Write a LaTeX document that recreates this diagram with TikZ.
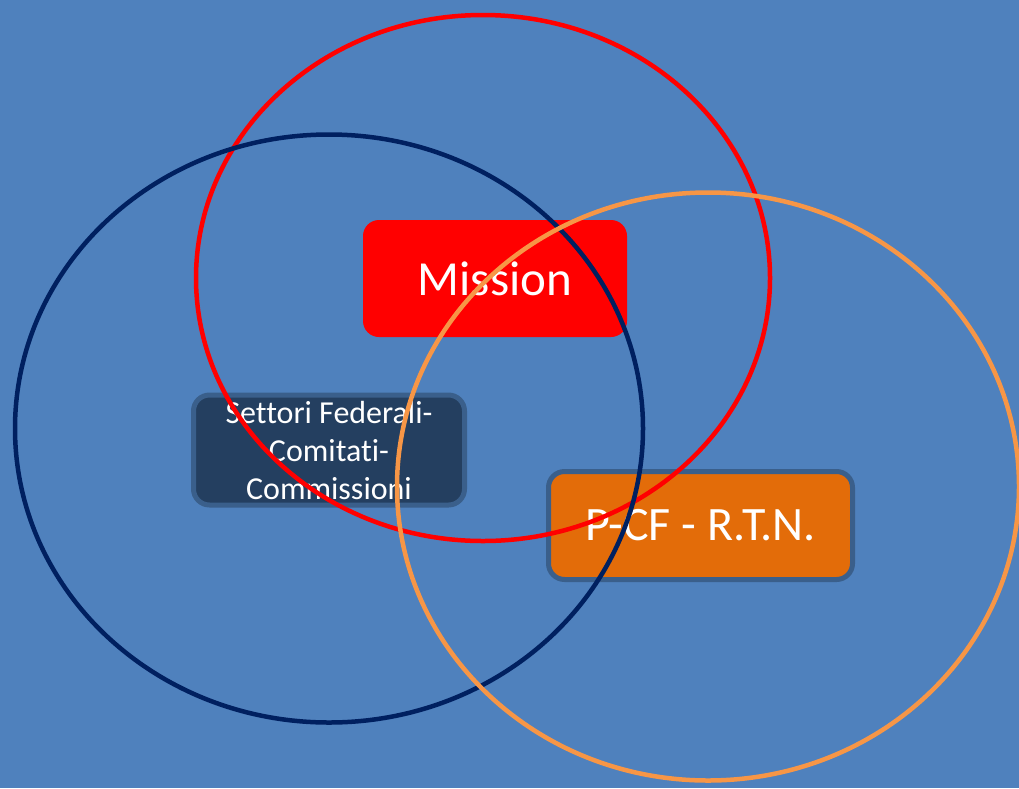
\documentclass[tikz,border=0pt]{standalone}
\usepackage{fontspec}
\setmainfont[Ligatures={NoCommon}]{Carlito}
\definecolor{bgblue}{HTML}{4F81BD}
\definecolor{navyline}{HTML}{002060}
\definecolor{orangeline}{HTML}{F79646}
\definecolor{settorifill}{HTML}{243F60}
\definecolor{boxborder}{HTML}{3A5F8B}
\definecolor{pcffill}{HTML}{E36C09}
\begin{document}
\begin{tikzpicture}[x=1pt,y=-1pt,
  box/.style={rounded corners=16pt, inner sep=0pt, align=center, text=white},
  ring/.style={line width=4.5pt}]
\fill[bgblue] (0,0) rectangle (1019,788);
\useasboundingbox (0,0) rectangle (1019,788);
\node[box, fill=red, minimum width=264pt, minimum height=117pt,
  font=\fontsize{49}{58}\selectfont] (mission) at (495,278.5) {Mission};
\node[box, fill=settorifill, draw=boxborder, line width=5pt,
  minimum width=271pt, minimum height=110pt,
  font=\fontsize{32}{38}\selectfont] (settori) at (329,450)
  {Settori Federali-\\Comitati-\\Commissioni};
\node[box, fill=pcffill, draw=boxborder, line width=5pt,
  minimum width=304pt, minimum height=108pt,
  font=\fontsize{48}{56}\selectfont] (pcf) at (700.5,525.5) {P-CF - R.T.N.};
\draw[ring, red] (483,278) ellipse [x radius=287pt, y radius=263pt];
\draw[ring, navyline] (329,428.5) ellipse [x radius=314pt, y radius=294pt];
\draw[ring, orangeline] (708,486.5) ellipse [x radius=311pt, y radius=294pt];
\end{tikzpicture}
\end{document}
